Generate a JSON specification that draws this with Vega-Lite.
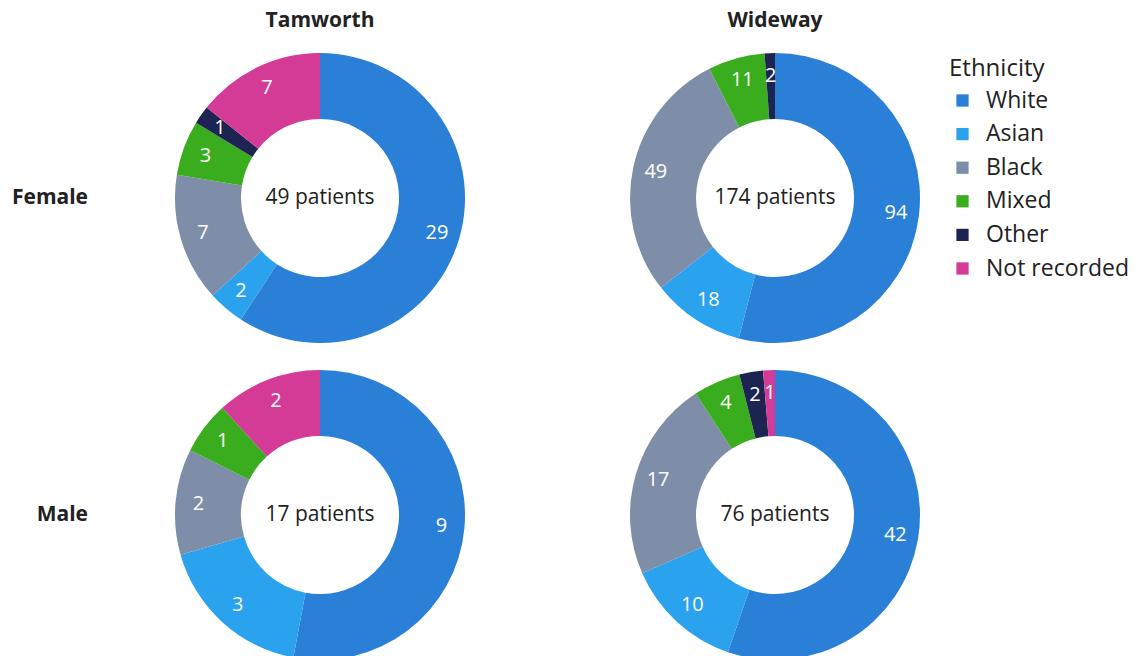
{
  "$schema": "https://vega.github.io/schema/vega-lite/v6.json",
  "padding": {"left": 11, "top": 10, "right": 0, "bottom": 0},
  "background": "white",
  "data": {"values": [
    {"site": "Tamworth", "sex": "Female", "ethnicity": "White", "count": 29},
    {"site": "Tamworth", "sex": "Female", "ethnicity": "Asian", "count": 2},
    {"site": "Tamworth", "sex": "Female", "ethnicity": "Black", "count": 7},
    {"site": "Tamworth", "sex": "Female", "ethnicity": "Mixed", "count": 3},
    {"site": "Tamworth", "sex": "Female", "ethnicity": "Other", "count": 1},
    {"site": "Tamworth", "sex": "Female", "ethnicity": "Not recorded", "count": 7},
    {"site": "Wideway", "sex": "Female", "ethnicity": "White", "count": 94},
    {"site": "Wideway", "sex": "Female", "ethnicity": "Asian", "count": 18},
    {"site": "Wideway", "sex": "Female", "ethnicity": "Black", "count": 49},
    {"site": "Wideway", "sex": "Female", "ethnicity": "Mixed", "count": 11},
    {"site": "Wideway", "sex": "Female", "ethnicity": "Other", "count": 2},
    {"site": "Tamworth", "sex": "Male", "ethnicity": "White", "count": 9},
    {"site": "Tamworth", "sex": "Male", "ethnicity": "Asian", "count": 3},
    {"site": "Tamworth", "sex": "Male", "ethnicity": "Black", "count": 2},
    {"site": "Tamworth", "sex": "Male", "ethnicity": "Mixed", "count": 1},
    {"site": "Tamworth", "sex": "Male", "ethnicity": "Not recorded", "count": 2},
    {"site": "Wideway", "sex": "Male", "ethnicity": "White", "count": 42},
    {"site": "Wideway", "sex": "Male", "ethnicity": "Asian", "count": 10},
    {"site": "Wideway", "sex": "Male", "ethnicity": "Black", "count": 17},
    {"site": "Wideway", "sex": "Male", "ethnicity": "Mixed", "count": 4},
    {"site": "Wideway", "sex": "Male", "ethnicity": "Other", "count": 2},
    {"site": "Wideway", "sex": "Male", "ethnicity": "Not recorded", "count": 1}
  ]},
  "transform": [
    {"calculate": "indexof(['White','Asian','Black','Mixed','Other','Not recorded'], datum.ethnicity)", "as": "rank"}
  ],
  "facet": {
    "row": {
      "field": "sex", "type": "nominal", "sort": ["Female", "Male"],
      "header": {"title": null, "labelOrient": "left", "labelAngle": 0, "labelAlign": "left", "labelPadding": 82, "labelFontSize": 21, "labelFontWeight": "bold", "labelColor": "#222222", "labelFont": "Open Sans"}
    },
    "column": {
      "field": "site", "type": "nominal", "sort": ["Tamworth", "Wideway"],
      "header": {"title": null, "labelOrient": "top", "labelPadding": 22, "labelFontSize": 21, "labelFontWeight": "bold", "labelColor": "#222222", "labelFont": "Open Sans"}
    }
  },
  "spacing": {"row": 27, "column": 155},
  "spec": {
    "width": 300,
    "height": 290,
    "layer": [
      {
        "mark": {"type": "arc", "outerRadius": 145, "innerRadius": 79},
        "encoding": {
          "theta": {"field": "count", "type": "quantitative", "stack": true},
          "order": {"field": "rank", "type": "quantitative"},
          "color": {
            "field": "ethnicity", "type": "nominal",
            "scale": {
              "domain": ["White", "Asian", "Black", "Mixed", "Other", "Not recorded"],
              "range": ["#2a7fd7", "#2ba2ee", "#7f8ea8", "#3aad1e", "#1e2451", "#d43b97"]
            },
            "legend": {
              "title": "Ethnicity", "orient": "right", "offset": 20, "padding": 4,
              "titleFontSize": 24, "titleFontWeight": "normal", "titleColor": "#222222", "titleFont": "Open Sans", "titlePadding": 8,
              "labelFontSize": 23, "labelColor": "#222222", "labelFont": "Open Sans",
              "symbolType": "square", "symbolSize": 150, "symbolStrokeWidth": 0, "symbolOpacity": 1,
              "symbolOffset": 2, "labelOffset": 12, "rowPadding": 9.6
            }
          }
        }
      },
      {
        "mark": {"type": "text", "radius": 122, "fill": "white", "fontSize": 20, "font": "Open Sans"},
        "encoding": {
          "theta": {"field": "count", "type": "quantitative", "stack": true},
          "order": {"field": "rank", "type": "quantitative"},
          "text": {"field": "count", "type": "quantitative"}
        }
      },
      {
        "transform": [
          {"aggregate": [{"op": "sum", "field": "count", "as": "total"}], "groupby": ["site", "sex"]},
          {"calculate": "datum.total + ' patients'", "as": "label"}
        ],
        "mark": {"type": "text", "fontSize": 21, "fill": "#222222", "font": "Open Sans"},
        "encoding": {"text": {"field": "label", "type": "nominal"}}
      }
    ]
  },
  "config": {"view": {"stroke": null}, "font": "Open Sans"}
}
